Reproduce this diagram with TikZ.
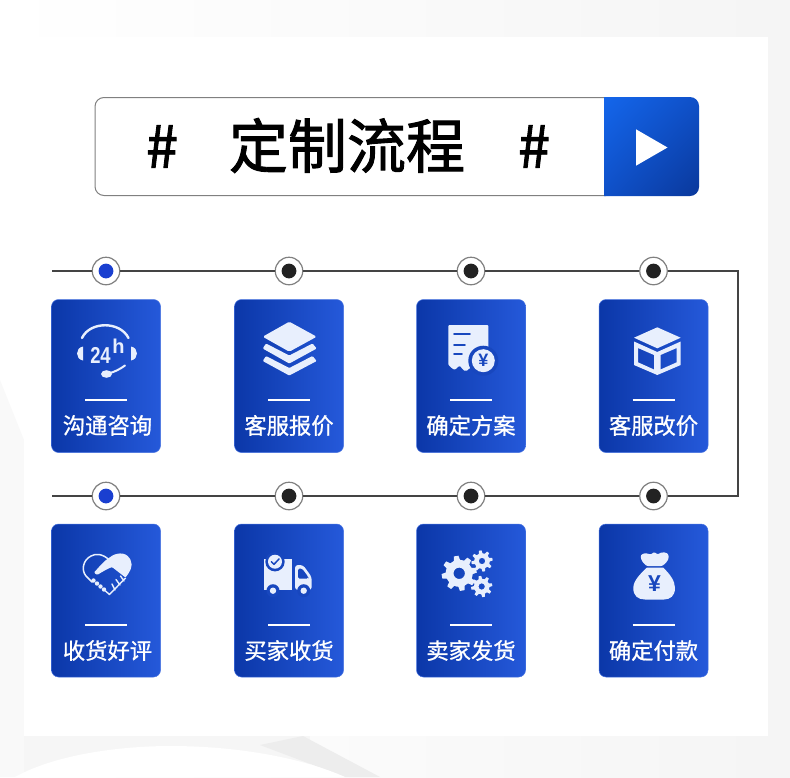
\documentclass[tikz,border=0pt]{standalone}
\usepackage{fontspec}
\usetikzlibrary{shapes.geometric,calc,shadings}
\setmainfont{Noto Sans CJK SC}
\newfontfamily\cjktitle[FakeBold=1.6]{Noto Sans CJK SC}
\newfontfamily\cjklabel[FakeBold=0.9]{Noto Sans CJK SC}
\newfontfamily\latinicon[FakeStretch=0.8]{Liberation Sans}
\newfontfamily\latinbold{Liberation Sans}
\definecolor{icon}{HTML}{E8EFFD}
\definecolor{cardL}{HTML}{0B37A8}
\definecolor{cardR}{HTML}{2559DA}
\definecolor{cardM}{HTML}{1847BE}
\definecolor{wire}{HTML}{444444}
\definecolor{bluedot}{HTML}{1A3FD0}
\definecolor{blackdot}{HTML}{222222}
\definecolor{btnA}{HTML}{1466EB}
\definecolor{btnB}{HTML}{0F50C8}
\definecolor{btnC}{HTML}{0A389B}
\tikzset{
  x=1pt,y=-1pt,
  card/.style={minimum width=109pt,minimum height=153pt,inner sep=0pt,rounded corners=7pt,
    left color=cardL,right color=cardR,draw=cardR!85!white,line width=0.5pt},
  cardlabel/.style={text=white,font=\cjklabel\fontsize{22.3}{24}\selectfont,inner sep=0pt},
  dotring/.style={circle,draw=black!50,fill=white,line width=1.2pt,minimum size=27.5pt,inner sep=0pt},
  wireline/.style={draw=wire,line width=1.2pt},
  divider/.style={draw=white,line width=2pt},
  titlehash/.style={font=\cjktitle\fontsize{58}{60}\selectfont,text=black,inner sep=0pt},
  iconstroke/.style={draw=icon,line cap=round,line join=round},
}
\newcommand{\stepdot}[4]{% name, x, y, colour
  \node[dotring] (#1) at (#2,#3) {};
  \fill[#4] (#1.center) circle (7.4pt);
}
\newcommand{\stepcard}[6][0]{% label shift, name, cx, cy, divider y, text
  \node[card] (#2) at (#3,#4) {};
  \coordinate (#2dl) at ($(#3,#5)+(-21,0)$);
  \coordinate (#2dr) at ($(#3,#5)+(21,0)$);
  \draw[divider] (#2dl) -- (#2dr);
  \node[cardlabel] (#2t) at ($(#3,#5)+(#1,25.5)$) {#6};
}
\newcommand{\geardraw}[6]{%
  \fill[icon,even odd rule] (#1,#2) circle (#3pt) (#1,#2) circle (#5pt);
  \foreach \ang in {0,#6,...,359}{
    \fill[icon,shift={(#1,#2)},rotate=\ang+10] (#3-1,-#3*0.24) -- (#4,-#3*0.17) -- (#4,#3*0.17) -- (#3-1,#3*0.24) -- cycle;
  }
}
\begin{document}
\begin{tikzpicture}
\useasboundingbox (0,0) rectangle (790,777);
% background
\shade[left color=white,right color=black!4] (0,0) rectangle (790,777);
\fill[black!2.5] (0,380) -- (24,440) -- (24,777) -- (0,777) -- cycle;
\fill[black!3.5] (24,736) rectangle (310,777);
\fill[black!7] (303,736) -- (380,777) -- (345,777) -- (260,745) -- cycle;
\fill[white] (15,777) .. controls (60,752) and (130,746) .. (170,746) .. controls (235,746) and (300,757) .. (345,777) -- cycle;
\fill[white] (24,37) rectangle (768,736);
% title bar
\node[draw=black!50,line width=1pt,rounded corners=9pt,fill=white,minimum width=520pt,minimum height=98pt,inner sep=0pt] (titlebar) at (355,146.5) {};
\shade[upper left=btnA,upper right=btnB,lower left=btnB,lower right=btnC]
  (604,97) -- (690,97) arc (-90:0:9) -- (699,187) arc (0:90:9) -- (604,196) -- cycle;
\node[regular polygon,regular polygon sides=3,shape border rotate=-90,fill=white,inner sep=0pt,minimum size=42pt] (play) at (646.5,147.5) {};
\node[titlehash] (h1) at (162,146.5) {\#};
\node[titlehash] (h2) at (534,146.5) {\#};
\node[titlehash,font=\cjktitle\fontsize{59}{60}\selectfont] (title) at (347,145.5) {定制流程};
% dots
\stepdot{a1}{106}{271}{bluedot}
\stepdot{a2}{289}{271}{blackdot}
\stepdot{a3}{471}{271}{blackdot}
\stepdot{a4}{653.5}{271}{blackdot}
\stepdot{b1}{106}{496}{bluedot}
\stepdot{b2}{289}{496}{blackdot}
\stepdot{b3}{471}{496}{blackdot}
\stepdot{b4}{653.5}{496}{blackdot}
% connectors
\coordinate (startA) at (52,271);
\coordinate (startB) at (52,496);
\coordinate (cornerA) at (738,271);
\coordinate (cornerB) at (738,496);
\draw[wireline] (startA) -- (a1);
\draw[wireline] (a1) -- (a2);
\draw[wireline] (a2) -- (a3);
\draw[wireline] (a3) -- (a4);
\draw[wireline,line join=miter] (a4) -- (cornerA) -- (cornerB) -- (b4);
\draw[wireline] (b4) -- (b3);
\draw[wireline] (b3) -- (b2);
\draw[wireline] (b2) -- (b1);
\draw[wireline] (b1) -- (startB);
% cards
\stepcard[1.5]{c1}{106}{376}{400}{沟通咨询}
\stepcard{c2}{289}{376}{400}{客服报价}
\stepcard{c3}{471}{376}{400}{确定方案}
\stepcard{c4}{653.5}{376}{400}{客服改价}
\stepcard[1.5]{c5}{106}{600.5}{625}{收货好评}
\stepcard{c6}{289}{600.5}{625}{买家收货}
\stepcard{c7}{471}{600.5}{625}{卖家发货}
\stepcard{c8}{653.5}{600.5}{625}{确定付款}
% icon 1: headset
\draw[iconstroke,line width=2.4pt] (82,338) .. controls (90,321) and (120,321) .. (128.5,338);
\fill[icon] (83,346.5) .. controls (75,348) and (75,359) .. (83,360.5) -- cycle;
\fill[icon] (131,346.5) .. controls (139,348) and (139,359) .. (131,360.5) -- cycle;
\node[text=icon,font=\latinicon\bfseries\fontsize{23}{23}\selectfont,inner sep=0pt] (i24) at (100.5,355) {24};
\node[text=icon,font=\latinbold\bfseries\fontsize{20}{20}\selectfont,inner sep=0pt] (ih) at (118.5,346) {h};
\fill[icon] (106.5,374) ellipse (5.5pt and 3.8pt);
\draw[iconstroke,line width=2pt] (108,373.5) .. controls (115,372) and (120,369) .. (125,365.5);
% icon 2: layers
\fill[icon,rounded corners=1.5pt] (289.3,321.7) -- (316.7,336.7) -- (289.3,351.7) -- (262.7,336.7) -- cycle;
\fill[icon,rounded corners=1pt] (266,343.5) -- (262.7,348.5) -- (289.3,363.5) -- (316.7,348.5) -- (312.5,343.5) -- (289.3,355.5) -- cycle;
\fill[icon,rounded corners=1pt] (266,356) -- (262.7,361) -- (289.3,375.5) -- (316.7,361) -- (312.5,356) -- (289.3,368) -- cycle;
% icon 3: receipt
\fill[icon,rounded corners=1pt] (448.3,325) -- (488.3,325) -- (488.3,360) -- (480,370) -- (474,370)
  .. controls (472,367) and (470,367) .. (468,370) .. controls (465,372) and (463,370) .. (461,367)
  .. controls (459,365) and (457,368) .. (456,369) .. controls (453,370) and (451,367) .. (448.3,365) -- cycle;
\draw[draw=cardM,line width=1.7pt,line cap=round] (454,334.3) -- (470,334.3) (454,345) -- (465,345) (454,354.3) -- (462,354.3);
\fill[cardM] (483.3,360.7) circle (15pt);
\fill[icon] (483.3,360.7) circle (11.5pt);
\node[text=cardM,font=\latinbold\bfseries\fontsize{18}{18}\selectfont,inner sep=0pt] (yen1) at (483.3,360.7) {¥};
% icon 4: box
\fill[icon] (657.3,327.3) -- (680.7,337.7) -- (657.3,348.3) -- (634,337.7) -- cycle;
\fill[icon,even odd rule] (634,341.5) -- (657.3,352) -- (680.7,341.5) -- (680.7,365) -- (657.3,375) -- (634,365) -- cycle
  (638,348) -- (638,362.3) -- (654,369.5) -- (654,355) -- cycle
  (660.5,355) -- (660.5,369.5) -- (676.7,362.3) -- (676.7,348) -- cycle;
% icon 5: heart handshake
\draw[iconstroke,line width=1.5pt] (109.3,560) .. controls (103,554) and (96,553) .. (91,556) .. controls (83,560) and (81,570) .. (86,576) -- (92,582);
\fill[icon,rounded corners=1pt] (94,572.5) .. controls (100,566) and (104,561) .. (109,558) .. controls (115,553) and (125,551) .. (130,559) .. controls (134,566) and (129,573) .. (125.5,577.5) -- (112,567) .. controls (107,569) and (102,572) .. (97,575) -- cycle;
\foreach \px/\py in {93.5/580.5,97/583.5,100.5/586.5,104/589.5}{\fill[icon] (\px,\py) circle (2.2pt);}
\draw[iconstroke,line width=1.4pt] (125.5,578) -- (109.5,594.5) -- (105.5,591) (120.5,576) -- (124,581) (116,579.5) -- (120,585) (112,584) -- (115,590);
% icon 6: truck
\fill[icon] (264.3,559.3) -- (292.3,559.3) -- (292.3,590) -- (264.3,590) -- cycle;
\fill[icon,rounded corners=3pt] (295,565) -- (303,565) -- (311.7,577) -- (311.7,590) -- (295,590) -- cycle;
\fill[cardM,rounded corners=1.5pt] (298,568.5) -- (302,568.5) -- (308.3,577) -- (308.3,578.5) -- (298,578.5) -- cycle;
\fill[cardM] (275,561.7) circle (9.7pt);
\fill[icon] (275,561.7) circle (7pt);
\draw[draw=cardM,line width=1.5pt,line cap=round,line join=round] (271.3,561.7) -- (274,564.3) -- (279,559);
\fill[cardM] (273,590.7) circle (6.5pt) (303.7,590.7) circle (6.5pt);
\fill[icon] (273,590.7) circle (3.2pt) (303.7,590.7) circle (3.2pt);
% icon 7: gears
\geardraw{459.2}{573.3}{13.5}{17.5}{5.7}{45}
\geardraw{482}{561}{7.8}{10.6}{3.2}{45}
\geardraw{481.7}{586.5}{7.8}{10.6}{3.2}{45}
% icon 8: money bag
\fill[icon,rounded corners=1pt] (647,566) .. controls (641,562) and (640,556) .. (642,554.5) .. controls (645,552.5) and (649,554) .. (651,554.5) -- (654,552) -- (658,554.5) .. controls (661,551.5) and (668,552) .. (668.5,556) .. controls (669,560) and (665,564) .. (662,566) -- cycle;
\fill[icon] (647,567.5) -- (663,567.5) .. controls (670,574) and (675,581) .. (675,588) .. controls (675,596) and (670,599.5) .. (664,599.5) -- (645,599.5) .. controls (638,599.5) and (633.3,596) .. (633.3,588) .. controls (633.3,581) and (640,574) .. (647,567.5) -- cycle;
\node[text=cardM,font=\latinbold\bfseries\fontsize{23}{23}\selectfont,inner sep=0pt] (yen2) at (654.5,584) {¥};
\end{tikzpicture}
\end{document}
